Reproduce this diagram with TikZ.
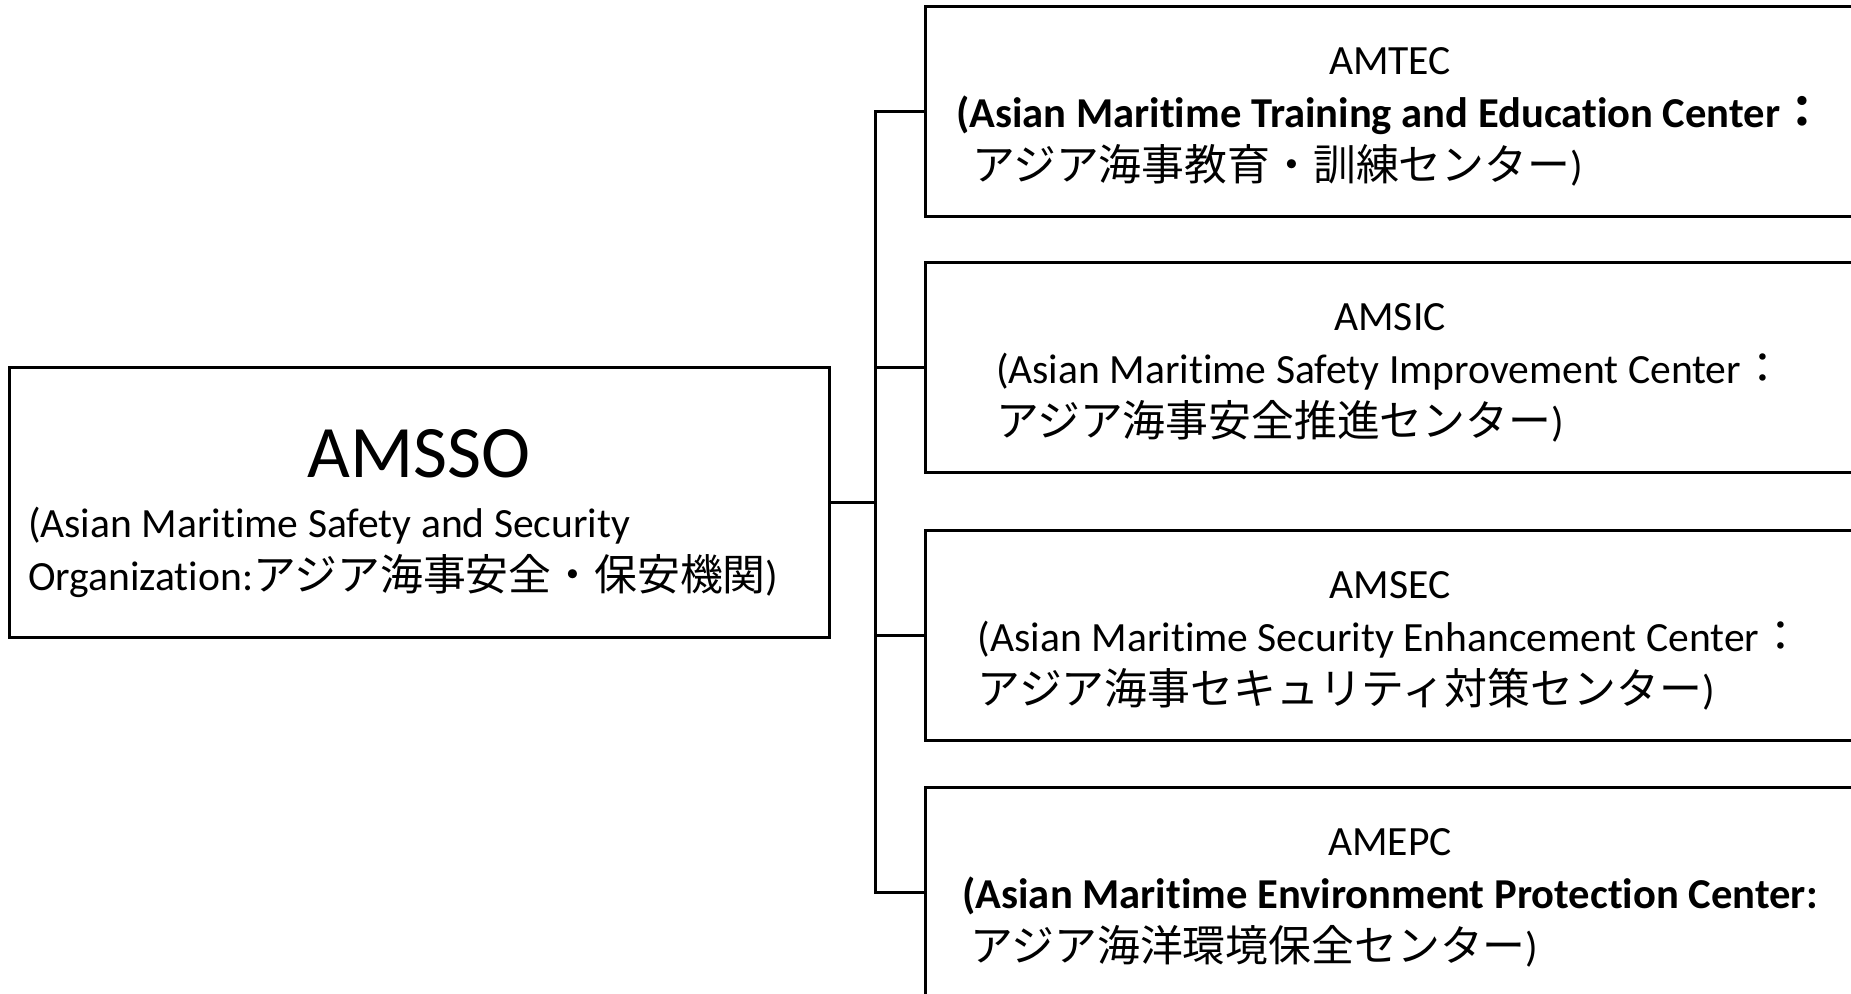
\documentclass[tikz,border=0pt]{standalone}
\usepackage{fontspec}
\setmainfont{Carlito}[Ligatures=NoCommon]
\newfontfamily\jp{Noto Sans CJK JP}[Scale=1.03]
\newcommand\orgtext{\fontsize{20.8}{26.5}\selectfont}
\newcommand\orgtitle{\fontsize{37}{44}\selectfont}
\newcommand\orgbold{\fontsize{21.3}{26.5}\selectfont\bfseries}
% three lines of a center box: name, English name, Japanese name
\newcommand\unitlines[3]{\raisebox{-3pt}[\height][\depth]{\begin{tabular}{@{}l@{}}
    \multicolumn{1}{@{}c@{}}{#1}\\ #2\\ #3
  \end{tabular}}}

\begin{document}
\begin{tikzpicture}[x=0.5pt,y=-0.5pt,
    orgbox/.style={draw, rectangle, line width=1.5pt, inner sep=0pt, font=\orgtext},
    unit/.style={orgbox, minimum width=465pt, minimum height=105pt},
    link/.style={line width=1.5pt}]
  \useasboundingbox (0,0) rectangle (1851,993);

  % parent organisation
  \node[orgbox, minimum width=410pt, minimum height=135pt] (amsso) at (419,502)
    {\raisebox{-8pt}[\height][\depth]{\begin{tabular}{@{}l@{}}
      \makebox[391pt]{\orgtitle AMSSO}\\[3.5pt]
      (Asian Maritime Safety and Security\\
      Organization:{\jp アジア海事安全・保安機関})
    \end{tabular}}};

  % the four centers
  \node[unit] (amtec) at (1390,111) {\unitlines{AMTEC}
    {{\orgbold (Asian Maritime Training and Education Center{\jp ：}}}
    {\hspace{8pt}{\jp アジア海事教育・訓練センター})}};
  \node[unit] (amsic) at (1390,367) {\unitlines{AMSIC}
    {(Asian Maritime Safety Improvement Center{\jp ：}}
    {{\jp アジア海事安全推進センター})}};
  \node[unit] (amsec) at (1390,635) {\unitlines{AMSEC}
    {(Asian Maritime Security Enhancement Center{\jp ：}}
    {{\jp アジア海事セキュリティ対策センター})}};
  \node[unit] (amepc) at (1390,892) {\unitlines{AMEPC}
    {{\orgbold (Asian Maritime Environment Protection Center:}}
    {\hspace{4pt}{\jp アジア海洋環境保全センター})}};

  % tree lines
  \coordinate (hub) at (875,502);
  \draw[link] (amsso.east) -- (hub);
  \draw[link] (amtec.west) -| (hub) |- (amepc.west);
  \draw[link] (amsic.west) -- (amsic.west -| hub);
  \draw[link] (amsec.west) -- (amsec.west -| hub);
\end{tikzpicture}
\end{document}
